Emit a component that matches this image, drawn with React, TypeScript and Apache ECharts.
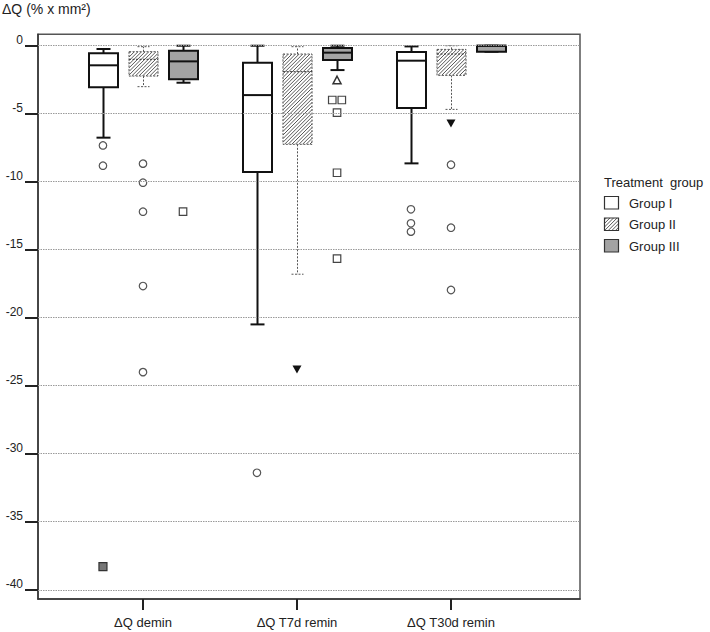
import React, { useEffect, useRef } from "react";
import * as echarts from "echarts";

const categories = ["ΔQ demin", "ΔQ T7d remin", "ΔQ T30d remin"];
const groups = ["Group I", "Group II", "Group III"];
const yTicks = [0, -5, -10, -15, -20, -25, -30, -35, -40];

// [min whisker, Q1, median, Q3, max whisker] per category
const groupI = [
  [-6.76, -3.06, -1.44, -0.56, -0.24],
  [-20.49, -9.29, -3.63, -1.25, 0],
  [-8.65, -4.58, -1.1, -0.46, -0.05],
];
const groupII = [
  [-3.01, -2.23, -1.0, -0.44, -0.07],
  [-16.8, -7.25, -1.91, -0.61, -0.07],
  [-4.68, -2.18, -0.61, -0.27, 0],
];
const groupIII = [
  [-2.72, -2.47, -1.15, -0.37, 0],
  [-1.79, -1.05, -0.51, -0.17, 0],
  [-0.44, -0.44, 0, 0, 0],
];

// outliers: [category index, group index, value, side-by-side shift]
const openCircles = [
  [0, 0, -7.33], [0, 0, -8.82],
  [0, 1, -8.67], [0, 1, -10.07], [0, 1, -12.2], [0, 1, -17.67], [0, 1, -24.0],
  [1, 0, -31.4],
  [2, 0, -12.03], [2, 0, -13.06], [2, 0, -13.67],
  [2, 1, -8.75], [2, 1, -13.38], [2, 1, -17.96],
];
const openSquares = [
  [0, 2, -12.2],
  [1, 2, -3.99, -1], [1, 2, -3.99, 1], [1, 2, -4.92], [1, 2, -9.34], [1, 2, -15.66],
];
const openTriangles = [[1, 2, -2.52]];
const filledDownTriangles = [[1, 1, -23.8], [2, 1, -5.71]];
const extremeSquares = [[0, 0, -38.3]];

const OFFSETS = [-0.26, 0, 0.26];
const JIT = 0.031;
const FONT = '"Liberation Sans", Arial, sans-serif';

const STYLES = [
  { stroke: "#111", lw: 2, fill: "#ffffff", dash: null as any, hatch: false, cap: 7 },
  { stroke: "#555", lw: 1, fill: "#ffffff", dash: [2, 1.5], hatch: true, cap: 6 },
  { stroke: "#111", lw: 2, fill: "#a3a3a3", dash: null as any, hatch: false, cap: 7 },
];

function hatchLines(x0: number, y0: number, w: number, h: number, step: number, color: string, lw: number) {
  const out: any[] = [];
  for (let c = x0 + y0 + step / 2; c < x0 + w + y0 + h; c += step) {
    const xa = Math.max(x0, c - y0 - h);
    const xb = Math.min(x0 + w, c - y0);
    if (xb - xa > 0.3) {
      out.push({
        type: "line",
        shape: { x1: xa, y1: c - xa, x2: xb, y2: c - xb },
        style: { stroke: color, lineWidth: lw },
        silent: true,
      });
    }
  }
  return out;
}

function boxSeries(values: number[][], g: number) {
  const st = STYLES[g];
  return {
    type: "custom",
    name: groups[g],
    z: 3,
    data: values.map((v, i) => [i, ...v]),
    renderItem: (params: any, api: any) => {
      const x = api.value(0) + 1 + OFFSETS[g];
      const mn = api.coord([x, api.value(1)]);
      const q1 = api.coord([x, api.value(2)]);
      const md = api.coord([x, api.value(3)]);
      const q3 = api.coord([x, api.value(4)]);
      const mx = api.coord([x, api.value(5)]);
      const cx = Math.round(mn[0]) + 0.5;
      const hw = 14.5;
      const lineStyle: any = { stroke: st.stroke, lineWidth: st.lw };
      if (st.dash) lineStyle.lineDash = st.dash;
      const children: any[] = [
        { type: "line", shape: { x1: cx, y1: q3[1], x2: cx, y2: mx[1] }, style: { ...lineStyle } },
        { type: "line", shape: { x1: cx, y1: q1[1], x2: cx, y2: mn[1] }, style: { ...lineStyle } },
        { type: "line", shape: { x1: cx - st.cap, y1: mx[1], x2: cx + st.cap, y2: mx[1] }, style: { ...lineStyle } },
        { type: "line", shape: { x1: cx - st.cap, y1: mn[1], x2: cx + st.cap, y2: mn[1] }, style: { ...lineStyle } },
        {
          type: "rect",
          shape: { x: cx - hw, y: q3[1], width: hw * 2, height: Math.max(q1[1] - q3[1], 1) },
          style: { fill: st.fill },
        },
      ];
      if (st.hatch) {
        children.push(...hatchLines(cx - hw, q3[1], hw * 2, q1[1] - q3[1], 3.6, "#444", 0.9));
      }
      children.push({
        type: "rect",
        shape: { x: cx - hw, y: q3[1], width: hw * 2, height: Math.max(q1[1] - q3[1], 1) },
        style: { fill: "none", ...lineStyle },
      });
      children.push({
        type: "line",
        shape: { x1: cx - hw, y1: md[1], x2: cx + hw, y2: md[1] },
        style: { ...lineStyle, stroke: g === 1 ? "#333" : st.stroke },
      });
      return { type: "group", children };
    },
  };
}

function pts(list: number[][]) {
  return list.map((p) => [p[0] + 1 + OFFSETS[p[1]] + (p[3] || 0) * JIT, p[2]]);
}

function legendGraphic() {
  const x0 = 604;
  const children: any[] = [
    { type: "text", x: x0, y: 176, style: { text: "Treatment  group", font: `13px ${FONT}`, fill: "#222" } },
  ];
  groups.forEach((name, i) => {
    const y = 196.5 + i * 21.5;
    const st = STYLES[i];
    children.push({ type: "rect", shape: { x: x0 + 0.5, y, width: 14, height: 12.5 }, style: { fill: st.fill } });
    if (st.hatch) children.push(...hatchLines(x0 + 0.5, y, 14, 12.5, 3.6, "#444", 0.9));
    children.push({
      type: "rect",
      shape: { x: x0 + 0.5, y, width: 14, height: 12.5 },
      style: { fill: "none", stroke: "#333", lineWidth: 1.2 },
    });
    children.push({
      type: "text",
      x: 629,
      y: y + 6.5,
      style: { text: name, font: `13px ${FONT}`, fill: "#222", verticalAlign: "middle" },
    });
  });
  return { type: "group", children };
}

export default function App() {
  const ref = useRef<HTMLDivElement>(null);
  useEffect(() => {
    if (!ref.current) return;
    const chart = echarts.init(ref.current, null, { renderer: "svg" });
    const option: any = {
      animation: false,
      backgroundColor: "#fff",
      textStyle: { fontFamily: FONT },
      grid: {
        left: 38,
        right: 130,
        top: 34.3,
        bottom: 33,
        show: true,
        borderColor: "#555",
        borderWidth: 1.5,
        backgroundColor: "transparent",
      },
      xAxis: {
        type: "value",
        min: 0.3182,
        max: 3.8377,
        axisLine: { show: true, onZero: false, lineStyle: { color: "#333", width: 1.5 } },
        axisTick: { show: true, customValues: [1, 2, 3], length: 11, lineStyle: { color: "#222", width: 2 } },
        axisLabel: {
          customValues: [1, 2, 3],
          formatter: (v: number) => categories[Math.round(v) - 1] || "",
          margin: 17,
          fontSize: 13,
          color: "#222",
          fontFamily: FONT,
        },
        splitLine: { show: false },
      },
      yAxis: {
        type: "value",
        min: -40.68,
        max: 0.84,
        axisLine: { show: true, onZero: false, lineStyle: { color: "#333", width: 1.5 } },
        axisTick: { show: true, customValues: yTicks, length: 13, lineStyle: { color: "#222", width: 2 } },
        axisLabel: {
          customValues: yTicks,
          formatter: (v: number) => String(v),
          margin: 15,
          fontSize: 12,
          color: "#222",
          verticalAlign: "bottom",
          fontFamily: FONT,
        },
        splitLine: { show: false },
      },
      graphic: [
        { type: "text", left: 2, top: 2, style: { text: "ΔQ (% x mm²)", font: `14px ${FONT}`, fill: "#222" } },
        legendGraphic(),
      ],
      series: [
        {
          type: "scatter",
          data: [],
          z: 1,
          markLine: {
            silent: true,
            symbol: ["none", "none"],
            label: { show: false },
            lineStyle: { color: "#9a9a9a", type: [1.5, 1], width: 1 },
            data: yTicks.map((v) => ({ yAxis: v })),
          },
        },
        boxSeries(groupI, 0),
        boxSeries(groupII, 1),
        boxSeries(groupIII, 2),
        {
          type: "scatter",
          z: 4,
          data: pts(openCircles),
          symbol: "circle",
          symbolSize: 7.5,
          itemStyle: { color: "#fff", borderColor: "#555", borderWidth: 1.2, opacity: 1 },
        },
        {
          type: "scatter",
          z: 4,
          data: pts(openSquares),
          symbol: "rect",
          symbolSize: 7.5,
          itemStyle: { color: "#fff", borderColor: "#444", borderWidth: 1.2, opacity: 1 },
        },
        {
          type: "scatter",
          z: 4,
          data: pts(openTriangles),
          symbol: "triangle",
          symbolSize: [8, 7.5],
          itemStyle: { color: "#fff", borderColor: "#333", borderWidth: 1.5, opacity: 1 },
        },
        {
          type: "scatter",
          z: 4,
          data: pts(filledDownTriangles),
          symbol: "triangle",
          symbolRotate: 180,
          symbolSize: [9, 8],
          itemStyle: { color: "#111", opacity: 1 },
        },
        {
          type: "scatter",
          z: 4,
          data: pts(extremeSquares),
          symbol: "rect",
          symbolSize: 8,
          itemStyle: { color: "#777", borderColor: "#333", borderWidth: 1.2, opacity: 1 },
        },
      ],
    };
    chart.setOption(option);
    return () => chart.dispose();
  }, []);
  return (
    <div
      ref={ref}
      style={{ position: "fixed", left: 0, top: 0, width: 710, height: 632, background: "#fff" }}
    />
  );
}
